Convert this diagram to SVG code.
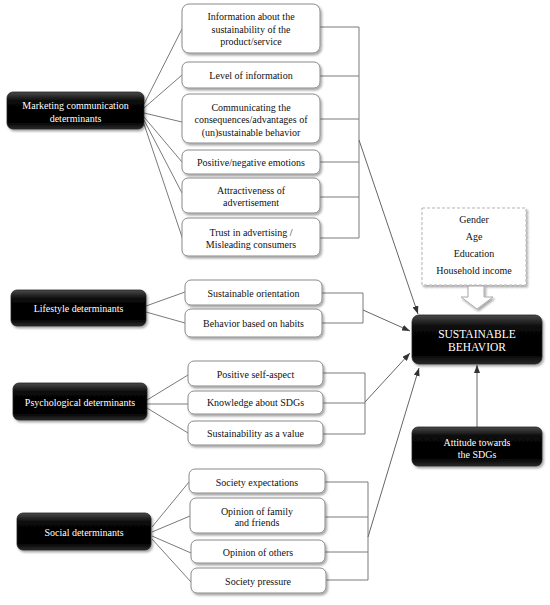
<svg xmlns="http://www.w3.org/2000/svg" width="550" height="605" viewBox="0 0 550 605">
<defs>
<style>
.w{fill:#fff;stroke:#8a8a8a;stroke-width:1;filter:url(#sh)}
.b{fill:url(#bg);stroke:#222;stroke-width:0.8;filter:url(#sh)}
.t{font-family:"Liberation Serif","Times New Roman",serif;font-size:10px;fill:#111;text-anchor:middle}
.tw{font-family:"Liberation Serif","Times New Roman",serif;font-size:10px;fill:#fff;text-anchor:middle}
.c{fill:none;stroke:#7a7a7a;stroke-width:1}
.a{fill:none;stroke:#666;stroke-width:1;marker-end:url(#ah)}
</style>
<linearGradient id="bg" x1="0" y1="0" x2="0" y2="1">
<stop offset="0" stop-color="#4a4a4a"/>
<stop offset="0.25" stop-color="#080808"/>
<stop offset="0.8" stop-color="#000"/>
<stop offset="1" stop-color="#2a2a2a"/>
</linearGradient>
<filter id="sh" x="-10%" y="-10%" width="125%" height="140%">
<feDropShadow dx="1.5" dy="2" stdDeviation="1.2" flood-color="#000" flood-opacity="0.35"/>
</filter>
<marker id="ah" viewBox="0 0 8 6" refX="8" refY="3" markerWidth="8" markerHeight="6" markerUnits="userSpaceOnUse" orient="auto">
<path d="M0,0 L8,3 L0,6 z" fill="#333"/>
</marker>
</defs>

<g id="connectors">
<!-- marketing fan -->
<path class="c" d="M144,104 L183,27 M144,108 L182,75 M144,113 L182,122 M144,117 L182,162 M144,120 L182,193 M144,124 L183,240"/>
<!-- marketing bracket -->
<path class="c" d="M320,27 H359 M320,76 H359 M320,119 H359 M320,162 H359 M320,197 H359 M320,238 H359 M359,27 V238"/>
<path class="a" d="M359,140 L418,314"/>
<!-- lifestyle -->
<path class="c" d="M146,306 L185,292 M146,312 L185,323"/>
<path class="c" d="M322,293 H363 M322,323 H363 M363,293 V323"/>
<path class="a" d="M363,310 L410,331"/>
<!-- psychological -->
<path class="c" d="M147,400 L188,375 M147,404 L188,404 M147,408 L188,433"/>
<path class="c" d="M323,373 H365 M323,403 H365 M323,434 H365 M365,373 V434"/>
<path class="a" d="M365,402 L410,353"/>
<!-- social -->
<path class="c" d="M152,527 L189,482 M152,532 L190,516 M152,536 L191,553 M152,539 L191,582"/>
<path class="c" d="M325,482 H368 M325,517 H368 M325,552 H368 M325,580 H368 M368,482 V580"/>
<path class="a" d="M368,537 L419,368"/>
<!-- attitude -->
<path class="a" d="M477,427 L477,365"/>
</g>

<g id="marketing">
<rect class="b" x="7" y="92" width="137" height="37" rx="6"/>
<text class="tw" x="75.5" y="108.5">Marketing communication</text>
<text class="tw" x="75.5" y="121.5">determinants</text>
</g>
<g id="m1">
<rect class="w" x="182" y="4" width="138" height="49" rx="7"/>
<text class="t" x="251" y="19.5">Information about the</text>
<text class="t" x="251" y="32.5">sustainability of the</text>
<text class="t" x="251" y="44.5">product/service</text>
</g>
<g id="m2">
<rect class="w" x="182" y="62" width="138" height="26" rx="6"/>
<text class="t" x="251" y="78.5">Level of information</text>
</g>
<g id="m3">
<rect class="w" x="182" y="94" width="138" height="49" rx="7"/>
<text class="t" x="251" y="110.5">Communicating the</text>
<text class="t" x="251" y="122.5">consequences/advantages of</text>
<text class="t" x="251" y="135.5">(un)sustainable behavior</text>
</g>
<g id="m4">
<rect class="w" x="182" y="150" width="138" height="24" rx="6"/>
<text class="t" x="251" y="165.5">Positive/negative emotions</text>
</g>
<g id="m5">
<rect class="w" x="182" y="178" width="138" height="35" rx="6"/>
<text class="t" x="251" y="193.5">Attractiveness of</text>
<text class="t" x="251" y="205.5">advertisement</text>
</g>
<g id="m6">
<rect class="w" x="182" y="218" width="138" height="38" rx="6"/>
<text class="t" x="251" y="235.5">Trust in advertising /</text>
<text class="t" x="251" y="247.5">Misleading consumers</text>
</g>

<g id="lifestyle">
<rect class="b" x="11" y="290" width="135" height="36" rx="6"/>
<text class="tw" x="78.5" y="311.5">Lifestyle determinants</text>
</g>
<g id="l1">
<rect class="w" x="185" y="280" width="137" height="25" rx="6"/>
<text class="t" x="253.5" y="296.5">Sustainable orientation</text>
</g>
<g id="l2">
<rect class="w" x="185" y="309" width="137" height="28" rx="6"/>
<text class="t" x="253.5" y="326.5">Behavior based on habits</text>
</g>

<g id="psychological">
<rect class="b" x="13" y="383" width="134" height="37" rx="6"/>
<text class="tw" x="80" y="405.5">Psychological determinants</text>
</g>
<g id="p1">
<rect class="w" x="188" y="361" width="135" height="25" rx="6"/>
<text class="t" x="255.5" y="377.5">Positive self-aspect</text>
</g>
<g id="p2">
<rect class="w" x="188" y="391" width="135" height="23" rx="6"/>
<text class="t" x="255.5" y="405.5">Knowledge about SDGs</text>
</g>
<g id="p3">
<rect class="w" x="188" y="421" width="135" height="24" rx="6"/>
<text class="t" x="255.5" y="436.5">Sustainability as a value</text>
</g>

<g id="social">
<rect class="b" x="17" y="513" width="134" height="37" rx="6"/>
<text class="tw" x="84" y="535.5">Social determinants</text>
</g>
<g id="s1">
<rect class="w" x="189" y="469" width="136" height="24" rx="6"/>
<text class="t" x="257" y="485.5">Society expectations</text>
</g>
<g id="s2">
<rect class="w" x="190" y="498" width="135" height="35" rx="6"/>
<text class="t" x="257" y="514.5">Opinion of family</text>
<text class="t" x="257" y="525.5">and friends</text>
</g>
<g id="s3">
<rect class="w" x="191" y="540" width="134" height="23" rx="6"/>
<text class="t" x="258" y="555.5">Opinion of others</text>
</g>
<g id="s4">
<rect class="w" x="191" y="568" width="135" height="25" rx="6"/>
<text class="t" x="258" y="584.5">Society pressure</text>
</g>

<g id="demographics">
<rect x="422" y="208" width="104" height="77" fill="#fff" stroke="#b5b5b5" stroke-width="1" stroke-dasharray="3,2" filter="url(#sh)"/>
<text class="t" x="474" y="222.5">Gender</text>
<text class="t" x="474" y="239.5">Age</text>
<text class="t" x="474" y="256.5">Education</text>
<text class="t" x="474" y="273.5">Household income</text>
<path d="M468,286 H484 V297 H493 L477,309 L461,297 H468 Z" fill="#fff" stroke="#aaa" stroke-width="1" filter="url(#sh)"/>
</g>

<g id="sustainable">
<rect class="b" x="412" y="315" width="130" height="49" rx="7"/>
<text class="tw" x="477" y="338" style="font-size:11.5px">SUSTAINABLE</text>
<text class="tw" x="477" y="351" style="font-size:11.5px">BEHAVIOR</text>
</g>

<g id="attitude">
<rect class="b" x="412" y="427" width="130" height="39" rx="6"/>
<text class="tw" x="477" y="445.5">Attitude towards</text>
<text class="tw" x="477" y="457.5">the SDGs</text>
</g>
</svg>
